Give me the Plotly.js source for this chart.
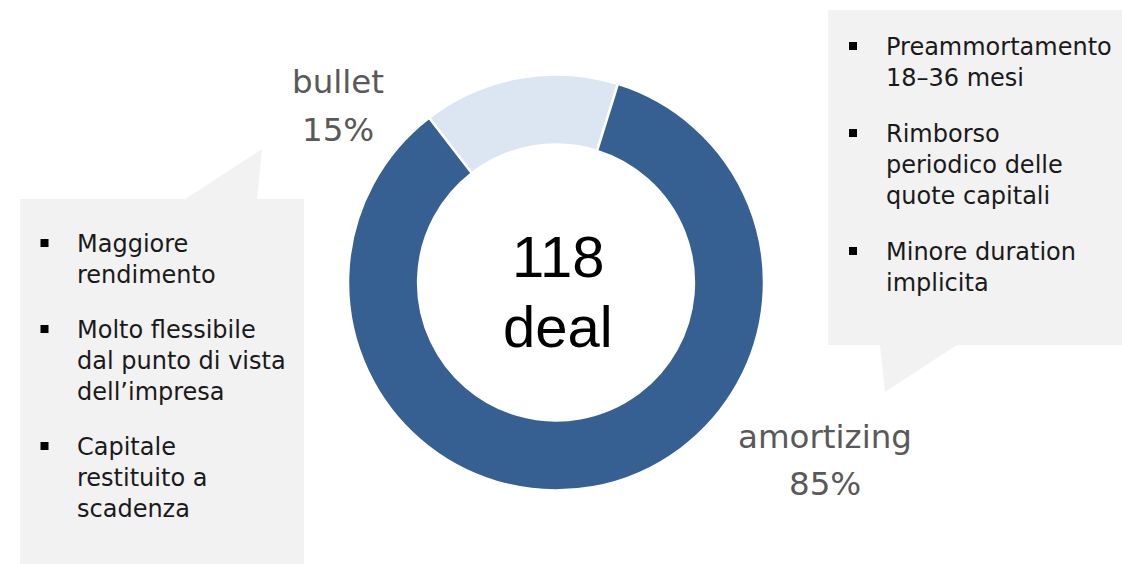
<!DOCTYPE html>
<html>
<head>
<meta charset="utf-8">
<script src="https://cdn.plot.ly/plotly-3.0.1.min.js"></script>
<style>html,body{margin:0;padding:0;background:#fff;}#chart{width:1122px;height:564px;}</style>
</head>
<body>
<div id="chart"></div>
<script>
// ---- data ----
const labels = ['bullet', 'amortizing'];
const values = [18, 100];
const colors = ['#DCE6F2', '#366092'];
const centerUnit = 'deal';
const leftPoints = ['Maggiore<br>rendimento', 'Molto flessibile<br>dal punto di vista<br>dell’impresa', 'Capitale<br>restituito a<br>scadenza'];
const rightPoints = ['Preammortamento<br>18–36 mesi', 'Rimborso<br>periodico delle<br>quote capitali', 'Minore duration<br>implicita'];

// ---- layout helpers ----
const W = 1122, H = 564;
const px = x => x / W;
const py = y => 1 - y / H;
const total = values.reduce((a, b) => a + b, 0);
const pct = values.map(v => Math.round(v / total * 100) + '%');

const labelFont = {family: 'DejaVu Sans', size: 32.5, color: '#595959'};
const pointFont = {family: 'DejaVu Sans', size: 24, color: '#1a1a1a'};
const centerFont = {family: 'Liberation Sans, Arial, sans-serif', size: 58, color: '#000000'};

const annotations = [];
const shapes = [];

// callout boxes
shapes.push({type: 'path', xref: 'paper', yref: 'paper', layer: 'below', line: {width: 0}, fillcolor: '#F2F2F2',
  path: `M${px(20)},${py(199)} L${px(185)},${py(199)} L${px(262)},${py(149)} L${px(257)},${py(199)} L${px(304)},${py(199)} L${px(304)},${py(564)} L${px(20)},${py(564)} Z`});
shapes.push({type: 'path', xref: 'paper', yref: 'paper', layer: 'below', line: {width: 0}, fillcolor: '#F2F2F2',
  path: `M${px(828)},${py(10)} L${px(1122)},${py(10)} L${px(1122)},${py(345)} L${px(957)},${py(345)} L${px(885)},${py(392)} L${px(880)},${py(345)} L${px(828)},${py(345)} Z`});

function addPoints(points, baselines, bulletX, textX) {
  points.forEach((t, i) => {
    const b = baselines[i];
    annotations.push({xref: 'paper', yref: 'paper', x: px(textX), y: py(b - 23.5), xanchor: 'left', yanchor: 'top',
      text: t, showarrow: false, align: 'left', font: pointFont, borderpad: 0});
    shapes.push({type: 'rect', xref: 'paper', yref: 'paper', x0: px(bulletX), x1: px(bulletX + 8),
      y0: py(b - 5), y1: py(b - 13), fillcolor: '#000000', line: {width: 0}});
  });
}
addPoints(leftPoints, [252, 338, 455], 40.5, 76);
addPoints(rightPoints, [55, 142, 260], 849, 885);

// slice labels (name line and percent line)
const labelPos = [{x: 338, y1: 82, y2: 130}, {x: 825, y1: 437, y2: 484}];
labels.forEach((l, i) => {
  annotations.push({xref: 'paper', yref: 'paper', x: px(labelPos[i].x), y: py(labelPos[i].y1), xanchor: 'center', yanchor: 'middle',
    text: l, showarrow: false, font: labelFont});
  annotations.push({xref: 'paper', yref: 'paper', x: px(labelPos[i].x), y: py(labelPos[i].y2), xanchor: 'center', yanchor: 'middle',
    text: pct[i], showarrow: false, font: labelFont});
});

// centre text
annotations.push({xref: 'paper', yref: 'paper', x: px(558), y: py(256), xanchor: 'center', yanchor: 'middle',
  text: String(total), showarrow: false, font: centerFont});
annotations.push({xref: 'paper', yref: 'paper', x: px(558), y: py(326), xanchor: 'center', yanchor: 'middle',
  text: centerUnit, showarrow: false, font: centerFont});

const trace = {
  type: 'pie', labels: labels, values: values, hole: 0.663, sort: false, direction: 'clockwise', rotation: -37.6,
  marker: {colors: colors, line: {color: '#FFFFFF', width: 2.5}},
  textinfo: 'none', hoverinfo: 'skip', showlegend: false,
  domain: {x: [px(348), px(764)], y: [py(490.5), py(74.5)]}
};

Plotly.newPlot('chart', [trace], {
  width: W, height: H, margin: {l: 0, r: 0, t: 0, b: 0},
  paper_bgcolor: '#FFFFFF', plot_bgcolor: '#FFFFFF', showlegend: false,
  shapes: shapes, annotations: annotations
}, {staticPlot: true});
</script>
</body>
</html>
